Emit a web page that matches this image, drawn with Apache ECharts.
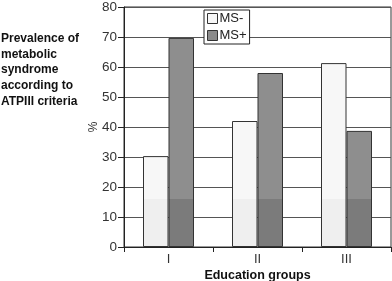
<!DOCTYPE html>
<html>
<head>
<meta charset="utf-8">
<script src="https://cdn.jsdelivr.net/npm/echarts@6/dist/echarts.min.js"></script>
<style>
  html, body { margin: 0; padding: 0; background: #fff; }
  #chart { width: 392px; height: 281px; }
</style>
</head>
<body>
<div id="chart"></div>
<script>
const categories = ["I", "II", "III"];
const msMinus = [30.3, 42, 61.3];
const msPlus = [69.7, 58, 38.7];
const yTicks = [0, 10, 20, 30, 40, 50, 60, 70, 80];

const FONT = "Liberation Sans, Arial, sans-serif";

// darker band at the bottom of each bar (scan shading)
function shaded(vals, top, bottom) {
  return vals.map((v) => {
    const off = Math.max(0, 1 - 16 / v);
    return {
      value: v,
      itemStyle: {
        color: {
          type: "linear", x: 0, y: 0, x2: 0, y2: 1,
          colorStops: [
            { offset: 0, color: top },
            { offset: off, color: top },
            { offset: off, color: bottom },
            { offset: 1, color: bottom }
          ]
        }
      }
    };
  });
}

const chart = echarts.init(document.getElementById("chart"));

chart.setOption({
  animation: false,
  textStyle: { fontFamily: FONT },
  grid: {
    left: 124, right: 1, top: 7, bottom: 34,
    outerBoundsMode: "none",
    containLabel: false,
    show: true, borderColor: "#333", borderWidth: 1
  },
  legend: {
    orient: "vertical",
    left: 204, top: 10,
    padding: [2, 3, 2, 3],
    itemGap: 4,
    icon: "rect",
    itemWidth: 10, itemHeight: 10,
    borderColor: "#222", borderWidth: 1,
    backgroundColor: "#fff",
    textStyle: { fontSize: 13, color: "#222", padding: [0, 0, 0, -3] },
    data: [
      { name: "MS-", itemStyle: { color: "#f7f7f7", borderColor: "#333", borderWidth: 1 } },
      { name: "MS+", itemStyle: { color: "#8a8a8a", borderColor: "#333", borderWidth: 1 } }
    ]
  },
  graphic: [
    {
      type: "text",
      left: 1, top: 31,
      style: {
        text: "Prevalence of\nmetabolic\nsyndrome\naccording to\nATPIII criteria",
        font: "bold 12px " + FONT,
        lineHeight: 15.6,
        fill: "#111"
      }
    }
  ],
  xAxis: {
    type: "category",
    data: categories,
    name: "Education groups",
    nameLocation: "middle",
    nameMoveOverlap: false,
    nameGap: 22,
    nameTextStyle: { fontSize: 12.5, fontWeight: "bold", color: "#111" },
    axisLine: { lineStyle: { color: "#222", width: 1 } },
    axisTick: { show: true, length: 5, lineStyle: { color: "#222" } },
    axisLabel: { fontSize: 13, color: "#333", margin: 6 }
  },
  yAxis: {
    type: "value",
    min: 0, max: 80, interval: 10,
    name: "%",
    nameLocation: "middle",
    nameMoveOverlap: false,
    nameGap: 24,
    nameRotate: 90,
    nameTextStyle: { fontSize: 12, color: "#333" },
    axisLine: { show: true, lineStyle: { color: "#222", width: 1 } },
    axisTick: { show: true, length: 6, lineStyle: { color: "#222" } },
    axisLabel: {
      fontSize: 13.5, color: "#333", margin: 7,
      formatter: (v) => (yTicks.includes(v) ? String(v) : "")
    },
    splitLine: { lineStyle: { color: "#555", width: 1 } }
  },
  series: [
    {
      name: "MS-",
      type: "bar",
      data: shaded(msMinus, "#f7f7f7", "#efefef"),
      barWidth: 25.5,
      barGap: "0%",
      itemStyle: { borderColor: "#333", borderWidth: 1 }
    },
    {
      name: "MS+",
      type: "bar",
      data: shaded(msPlus, "#8e8e8e", "#7b7b7b"),
      barWidth: 25.5,
      barGap: "0%",
      itemStyle: { borderColor: "#333", borderWidth: 1 }
    }
  ]
});
</script>
</body>
</html>
